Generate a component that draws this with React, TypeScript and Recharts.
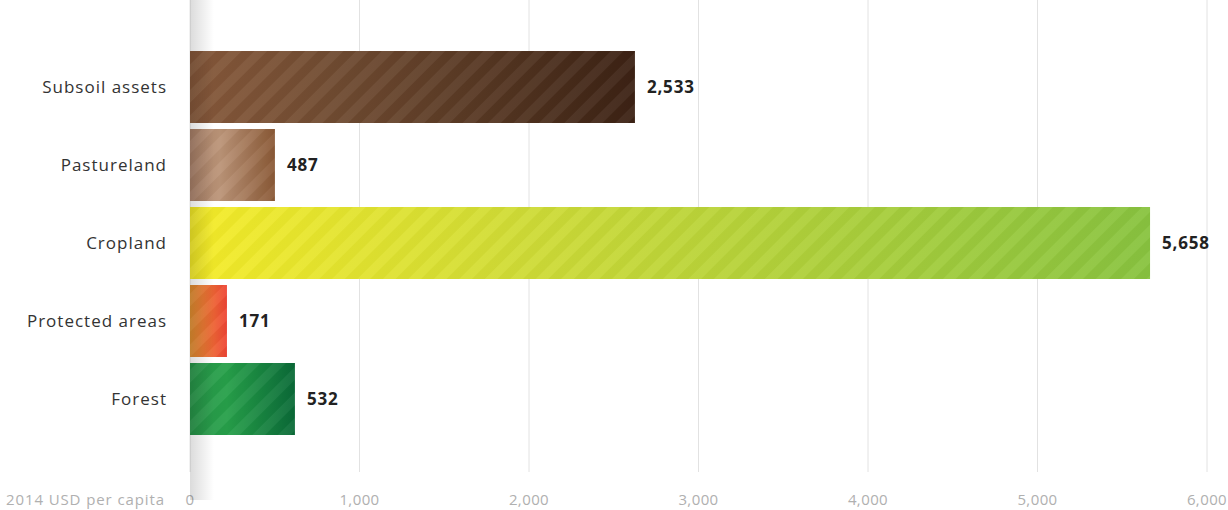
import React from 'react';
import { BarChart, Bar, XAxis, YAxis, CartesianGrid, LabelList } from 'recharts';

if (typeof document !== 'undefined') {
  document.body.style.margin = '0';
}

const categories = ['Subsoil assets', 'Pastureland', 'Cropland', 'Protected areas', 'Forest'];
// bar lengths as drawn in the picture
const barValues = [2625, 501, 5664, 218, 619];
// printed value labels
const valueLabels = ['2,533', '487', '5,658', '171', '532'];
const xTicks = [0, 1000, 2000, 3000, 4000, 5000, 6000];
const axisTitle = '2014 USD per capita';

const gradients: string[][] = [
  ['#86583a', '#6e4a30', '#3c2214'],
  ['#a98068', '#bb9478', '#8a5936'],
  ['#f5ec28', '#cfdb36', '#88c33f'],
  ['#e29030', '#ec7a33', '#ee4535'],
  ['#28974a', '#27a04a', '#0a6a37'],
];

const data = categories.map((name, i) => ({ name, value: barValues[i], label: valueLabels[i] }));

const FONT = '"Open Sans", "DejaVu Sans", sans-serif';

const StripedBar = (props: any) => {
  const { x, y, width, height, index } = props;
  if (width <= 0) return null;
  return (
    <g>
      <rect x={x} y={y} width={width} height={height} fill={`url(#grad${index})`} />
      <rect x={x} y={y} width={width} height={height} fill="url(#stripes)" />
    </g>
  );
};

export default function App() {
  return (
    <div style={{ position: 'relative', width: 1228, height: 510, background: '#fff' }}>
      <BarChart
        width={1228}
        height={510}
        data={data}
        layout="vertical"
        margin={{ top: 0, right: 21, left: 0, bottom: 0 }}
        barSize={72}
      >
        <defs>
          {gradients.map((g, i) => (
            <linearGradient key={i} id={`grad${i}`} x1="0" y1="0" x2="1" y2="0">
              <stop offset="0%" stopColor={g[0]} />
              <stop offset="35%" stopColor={g[1]} />
              <stop offset="100%" stopColor={g[2]} />
            </linearGradient>
          ))}
          <pattern id="stripes" patternUnits="userSpaceOnUse" width="18" height="18" patternTransform="rotate(45)">
            <rect x="0" y="0" width="9" height="18" fill="#ffffff" fillOpacity="0.05" />
            <rect x="9" y="0" width="9" height="18" fill="#000000" fillOpacity="0.025" />
          </pattern>
        </defs>
        <CartesianGrid horizontal={false} stroke="#e2e2e2" />
        <XAxis
          type="number"
          domain={[0, 6000]}
          ticks={xTicks}
          axisLine={false}
          tickLine={false}
          tickSize={0}
          tickMargin={22}
          height={38}
          interval={0}
          tickFormatter={(v: number) => v.toLocaleString('en-US')}
          tick={{ fill: '#b0b0b0', fontSize: 15, fontFamily: FONT, letterSpacing: 0.4 }}
          label={{
            content: (p: any) => {
              const vb = p.viewBox || { x: 190, y: 472 };
              return (
                <text x={vb.x - 25} y={vb.y + 33} textAnchor="end" fill="#b0b0b0" fontSize={15} fontFamily={FONT} letterSpacing={0.9}>
                  {axisTitle}
                </text>
              );
            },
          }}
        />
        <YAxis
          type="category"
          dataKey="name"
          width={190}
          axisLine={false}
          tickLine={false}
          tickSize={0}
          tickMargin={23}
          padding={{ top: 48, bottom: 34 }}
          tick={{ fill: '#333333', fontSize: 17, fontFamily: FONT, letterSpacing: 1 }}
        />
        <Bar dataKey="value" isAnimationActive={false} shape={<StripedBar />}>
          <LabelList
            dataKey="label"
            position="right"
            offset={12}
            fill="#222222"
            fontSize={17}
            fontWeight={700}
            fontFamily={FONT}
            letterSpacing={0.8}
          />
        </Bar>
      </BarChart>
      <div
        style={{
          position: 'absolute',
          left: 190,
          top: 0,
          width: 24,
          height: 500,
          pointerEvents: 'none',
          background: 'linear-gradient(to right, rgba(0,0,0,0.14), rgba(0,0,0,0))',
        }}
      />
    </div>
  );
}
